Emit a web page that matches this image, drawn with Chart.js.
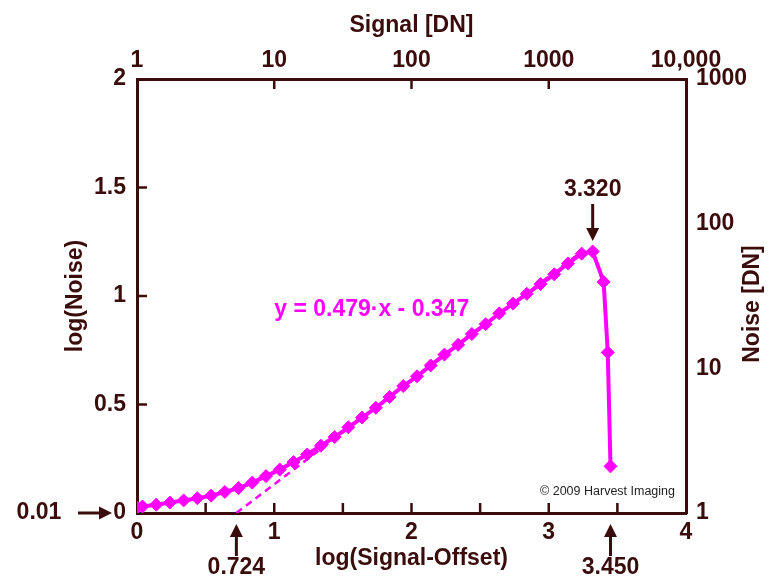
<!DOCTYPE html>
<html>
<head>
<meta charset="utf-8">
<script src="https://cdn.jsdelivr.net/npm/chart.js@4/dist/chart.umd.min.js"></script>
<style>
  html, body { margin: 0; padding: 0; background: #fff; }
  #wrap { width: 769px; height: 587px; }
</style>
</head>
<body>
<div id="wrap"><canvas id="noiseChart" width="769" height="587"></canvas></div>
<script>
// measured points: log(Signal-Offset) vs log(Noise)
const logSignal = [0, 0.04, 0.14, 0.24, 0.34, 0.44, 0.54, 0.64, 0.74, 0.84, 0.94,
  1.04, 1.14, 1.24, 1.34, 1.44, 1.54, 1.64, 1.74, 1.84, 1.94,
  2.04, 2.14, 2.24, 2.34, 2.44, 2.54, 2.64, 2.74, 2.84, 2.94,
  3.04, 3.14, 3.24, 3.32, 3.40, 3.43, 3.45];
const logNoise = [0.025, 0.03, 0.038, 0.048, 0.058, 0.068, 0.08, 0.097, 0.115, 0.14, 0.17,
  0.2, 0.235, 0.27, 0.31, 0.35, 0.395, 0.44, 0.485, 0.535, 0.585,
  0.63, 0.68, 0.73, 0.775, 0.825, 0.87, 0.92, 0.965, 1.01, 1.055,
  1.1, 1.15, 1.195, 1.205, 1.065, 0.74, 0.215];

// linear fit shown as dashed line
const fitSlope = 0.479;
const fitOffset = -0.347;
const fitRange = [0.724, 3.2];

// axis ticks / labels
const bottomTickMarks = [0.5, 1, 1.5, 2, 2.5, 3, 3.5];
const topTickMarks = [10, 100, 1000];
const leftTickMarks = [0.5, 1, 1.5];
const leftTickLabels = { 0: "0", 0.5: "0.5", 1: "1", 1.5: "1.5", 2: "2" };
const topTickLabels = { 1: "1", 10: "10", 100: "100", 1000: "1000", 10000: "10,000" };
const rightTickLabels = { 1: "1", 10: "10", 100: "100", 1000: "1000" };

const magenta = "#ff00ff";
const axisColor = "#3a0c0c";
const fontFam = "'Liberation Sans', Arial, sans-serif";
const boldBig = { family: fontFam, size: 23, weight: "bold" };

const fitPoints = fitRange.map(x => ({ x: x, y: fitSlope * x + fitOffset }));

// inside tick marks + arrows + notes
const annotations = {
  id: "annotations",
  afterDraw(chart) {
    const ctx = chart.ctx;
    const xs = chart.scales.x, ys = chart.scales.y, xt = chart.scales.xTop;
    const area = chart.chartArea;
    ctx.save();
    ctx.strokeStyle = axisColor;
    ctx.fillStyle = axisColor;
    ctx.lineWidth = 2.5;
    ctx.beginPath();
    bottomTickMarks.forEach(v => {
      const px = xs.getPixelForValue(v);
      ctx.moveTo(px, area.bottom); ctx.lineTo(px, area.bottom - 10);
    });
    topTickMarks.forEach(v => {
      const px = xt.getPixelForValue(v);
      ctx.moveTo(px, area.top); ctx.lineTo(px, area.top + 10);
    });
    leftTickMarks.forEach(v => {
      const py = ys.getPixelForValue(v);
      ctx.moveTo(area.left, py); ctx.lineTo(area.left + 10, py);
    });
    ctx.stroke();

    function arrow(x1, y1, x2, y2) {
      const ang = Math.atan2(y2 - y1, x2 - x1);
      const head = 13;
      ctx.lineWidth = 3;
      ctx.beginPath();
      ctx.moveTo(x1, y1);
      ctx.lineTo(x2 - Math.cos(ang) * head * 0.8, y2 - Math.sin(ang) * head * 0.8);
      ctx.stroke();
      ctx.beginPath();
      ctx.moveTo(x2, y2);
      ctx.lineTo(x2 - Math.cos(ang) * head - Math.sin(ang) * 6.5, y2 - Math.sin(ang) * head + Math.cos(ang) * 6.5);
      ctx.lineTo(x2 - Math.cos(ang) * head + Math.sin(ang) * 6.5, y2 - Math.sin(ang) * head - Math.cos(ang) * 6.5);
      ctx.closePath();
      ctx.fill();
    }

    ctx.font = "bold 23px " + fontFam;
    ctx.textAlign = "center";
    ctx.textBaseline = "middle";

    const y0 = ys.getPixelForValue(0);
    ctx.fillText("0.01", 39, y0);
    arrow(78, y0, 112, y0);

    const xa = xs.getPixelForValue(0.724);
    arrow(xa, 556, xa, 524);
    ctx.fillText("0.724", xa, 568);

    const xb = xs.getPixelForValue(3.45);
    arrow(xb, 556, xb, 524);
    ctx.fillText("3.450", xb, 568);

    const xc = xs.getPixelForValue(3.32);
    ctx.fillText("3.320", xc, 190);
    arrow(xc, 204, xc, 241);

    // equation
    ctx.fillStyle = magenta;
    ctx.fillText("y = 0.479\u00b7x - 0.347", xs.getPixelForValue(1.71), ys.getPixelForValue(0.935));

    // copyright
    ctx.fillStyle = "#222";
    ctx.font = "12.5px " + fontFam;
    ctx.textAlign = "right";
    ctx.fillText("\u00a9 2009 Harvest Imaging", 675, 492);

    // right axis title
    ctx.fillStyle = axisColor;
    ctx.font = "bold 23px " + fontFam;
    ctx.translate(753, 304);
    ctx.rotate(-Math.PI / 2);
    ctx.textAlign = "center";
    ctx.fillText("Noise [DN]", 0, 0);
    ctx.restore();
  }
};

const border = { display: true, color: axisColor, width: 3 };

new Chart(document.getElementById("noiseChart"), {
  type: "line",
  data: {
    datasets: [
      {
        label: "Noise",
        data: logSignal.map((x, i) => ({ x: x, y: logNoise[i] })),
        borderColor: magenta,
        backgroundColor: magenta,
        borderWidth: 4,
        pointStyle: "rectRot",
        pointRadius: 6.5,
        pointBorderWidth: 1,
        tension: 0,
        xAxisID: "x",
        yAxisID: "y"
      },
      {
        label: "Fit",
        data: fitPoints,
        borderColor: magenta,
        borderWidth: 2.5,
        borderDash: [7, 5],
        pointRadius: 0,
        xAxisID: "x",
        yAxisID: "y"
      }
    ]
  },
  options: {
    responsive: false,
    animation: false,
    devicePixelRatio: 1,
    layout: { padding: 0 },
    plugins: { legend: { display: false }, tooltip: { enabled: false } },
    scales: {
      x: {
        type: "linear", position: "bottom", min: 0, max: 4,
        grid: { display: false, drawTicks: false },
        border: border,
        ticks: {
          stepSize: 0.5, autoSkip: false, padding: 6, color: axisColor, font: boldBig,
          callback: v => Number.isInteger(v) ? String(v) : ""
        },
        title: { display: true, text: "log(Signal-Offset)", color: axisColor, font: boldBig, padding: { top: 0, bottom: 15 } },
        afterFit: s => { s.height = 74; }
      },
      xTop: {
        type: "logarithmic", position: "top", min: 1, max: 10000,
        grid: { display: false, drawTicks: false },
        border: border,
        ticks: {
          autoSkip: false, padding: 5, color: axisColor, font: boldBig, maxRotation: 0,
          callback: v => topTickLabels[v] || ""
        },
        title: { display: true, text: "Signal [DN]", color: axisColor, font: boldBig, padding: { top: 12, bottom: 0 } },
        afterFit: s => { s.height = 79; }
      },
      y: {
        type: "linear", position: "left", min: 0, max: 2,
        grid: { display: false, drawTicks: false },
        border: border,
        ticks: {
          stepSize: 0.5, padding: 11, color: axisColor, font: boldBig,
          callback: v => leftTickLabels[v] || ""
        },
        title: { display: true, text: "log(Noise)", color: axisColor, font: boldBig, padding: { top: 62, bottom: 0 } },
        afterFit: s => { s.width = 137; }
      },
      yRight: {
        type: "logarithmic", position: "right", min: 1, max: 1000,
        grid: { display: false, drawTicks: false },
        border: border,
        ticks: {
          autoSkip: false, padding: 10, color: axisColor, font: boldBig,
          callback: v => rightTickLabels[v] || ""
        },
        afterFit: s => { s.width = 83; }
      }
    }
  },
  plugins: [annotations]
});
</script>
</body>
</html>
